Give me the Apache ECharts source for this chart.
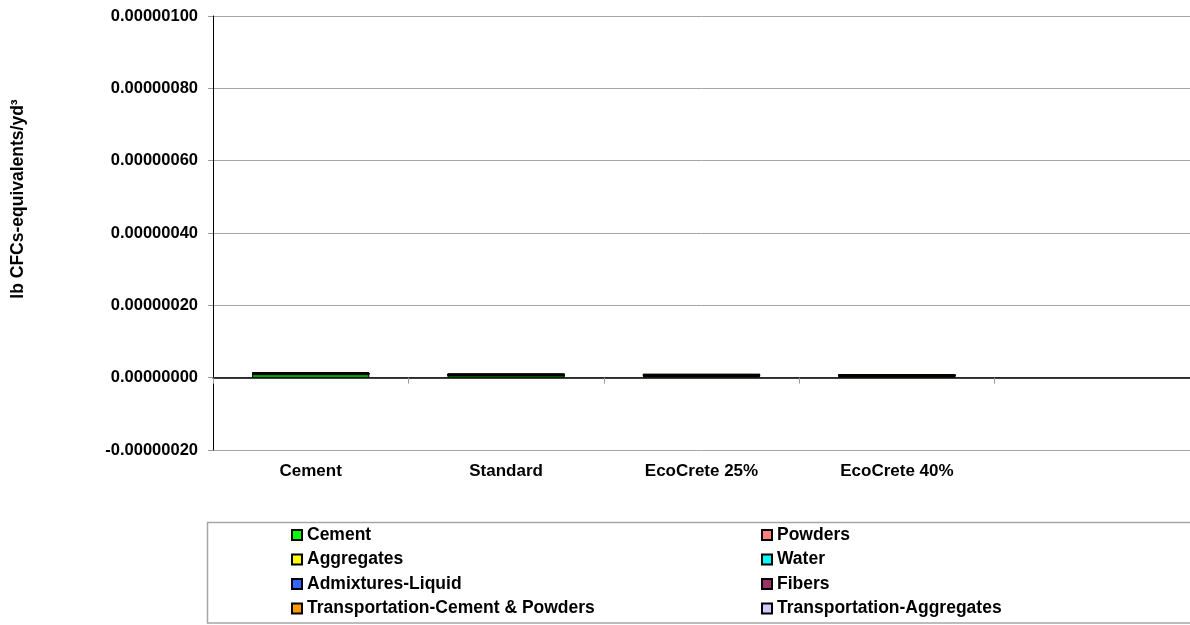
<!DOCTYPE html>
<html>
<head>
<meta charset="utf-8">
<title>lb CFCs-equivalents/yd³</title>
<script src="https://cdn.jsdelivr.net/npm/echarts@6/dist/echarts.min.js"></script>
<style>
  html, body { margin: 0; padding: 0; background: #ffffff; }
  #chart { width: 1190px; height: 625px; }
</style>
</head>
<body>
<div id="chart"></div>
<script>
// Mix categories (the last slot is left empty)
const categories = ['Cement', 'Standard', 'EcoCrete 25%', 'EcoCrete 40%', ''];

// Ozone depletion contributions, lb CFCs-equivalents per cubic yard
const cementVals        = [0.0000000090, 0.0000000060, 0.0000000045, 0.0000000035];
const powdersVals       = [0.0000000000, 0.0000000000, 0.0000000005, 0.0000000005];
const aggregatesVals    = [0.0000000020, 0.0000000020, 0.0000000020, 0.0000000020];
const waterVals         = [0.0000000001, 0.0000000001, 0.0000000001, 0.0000000001];
const admixturesVals    = [0.0000000005, 0.0000000005, 0.0000000005, 0.0000000005];
const fibersVals        = [0.0000000000, 0.0000000000, 0.0000000000, 0.0000000000];
const transCementVals   = [0.0000000015, 0.0000000010, 0.0000000010, 0.0000000008];
const transAggVals      = [0.0000000015, 0.0000000015, 0.0000000015, 0.0000000015];

const seriesNames = [
  'Cement', 'Powders', 'Aggregates', 'Water',
  'Admixtures-Liquid', 'Fibers', 'Transportation-Cement & Powders', 'Transportation-Aggregates'
];
const seriesValues = [
  cementVals, powdersVals, aggregatesVals, waterVals,
  admixturesVals, fibersVals, transCementVals, transAggVals
];
const seriesColors = [
  '#00ff00', '#ff8080', '#ffff00', '#00ffff',
  '#3366ff', '#993366', '#ff9900', '#ccccff'
];

// Y axis range and step
const yMin = -0.0000002;
const yMax = 0.000001;
const yStep = 0.0000002;

const FONT = '"Liberation Sans", Arial, sans-serif';

const chart = echarts.init(document.getElementById('chart'), null, { renderer: 'canvas' });

const series = seriesNames.map((name, i) => ({
  name: name,
  type: 'bar',
  stack: 'total',
  xAxisIndex: 0,
  yAxisIndex: 0,
  barWidth: '60%',
  data: seriesValues[i],
  itemStyle: { color: seriesColors[i], borderColor: '#000000', borderWidth: 1 },
  emphasis: { disabled: true },
  animation: false
}));

const legendText = { fontFamily: FONT, fontWeight: 'bold', fontSize: 17.5, color: '#000000', lineHeight: 18 };

const legendBase = {
  orient: 'vertical', top: 526, height: 98, padding: 0,
  itemWidth: 10, itemHeight: 10, itemGap: 6.5,
  icon: 'rect', selectedMode: false, textStyle: legendText
};

const option = {
  backgroundColor: '#ffffff',
  animation: false,
  grid: { left: 213, top: 16, right: -6, bottom: 175, containLabel: false },
  legend: [
    Object.assign({}, legendBase, {
      data: [seriesNames[0], seriesNames[2], seriesNames[4], seriesNames[6]],
      left: 291
    }),
    Object.assign({}, legendBase, {
      data: [seriesNames[1], seriesNames[3], seriesNames[5], seriesNames[7]],
      left: 761
    })
  ],
  xAxis: [
    {
      type: 'category',
      data: categories,
      position: 'bottom',
      axisLine: { show: false, onZero: false },
      axisTick: { show: false },
      axisLabel: {
        margin: 13,
        fontFamily: FONT, fontWeight: 'bold', fontSize: 17, color: '#000000'
      },
      splitLine: { show: false }
    },
    {
      // zero baseline with category separators
      type: 'category',
      data: categories,
      position: 'bottom',
      axisLine: { show: true, onZero: true, lineStyle: { color: '#000000', width: 1.5 } },
      axisTick: { show: true, length: 6, lineStyle: { color: '#999999', width: 1 } },
      axisLabel: { show: false },
      splitLine: { show: false }
    }
  ],
  yAxis: {
    type: 'value',
    min: yMin,
    max: yMax,
    interval: yStep,
    axisLine: { show: true, lineStyle: { color: '#000000', width: 1 } },
    axisTick: { show: true, length: 5, lineStyle: { color: '#999999' } },
    axisLabel: {
      margin: 15,
      fontFamily: FONT, fontWeight: 'bold', fontSize: 16.5, color: '#000000',
      formatter: v => v.toFixed(8)
    },
    splitLine: { show: true, lineStyle: { color: '#a6a6a6', width: 1 } }
  },
  graphic: [
    {
      type: 'text',
      x: 18, y: 199,
      rotation: Math.PI / 2,
      style: {
        text: 'lb CFCs-equivalents/yd³',
        fontFamily: FONT, fontWeight: 'bold', fontSize: 17.5, fill: '#000000',
        textAlign: 'center', textVerticalAlign: 'middle'
      }
    },
    {
      type: 'rect',
      z: -1,
      shape: { x: 207.5, y: 522.5, width: 990, height: 100.5 },
      style: { fill: 'none', stroke: '#a6a6a6', lineWidth: 1.5 }
    }
  ],
  series: series
};

chart.setOption(option);
</script>
</body>
</html>
